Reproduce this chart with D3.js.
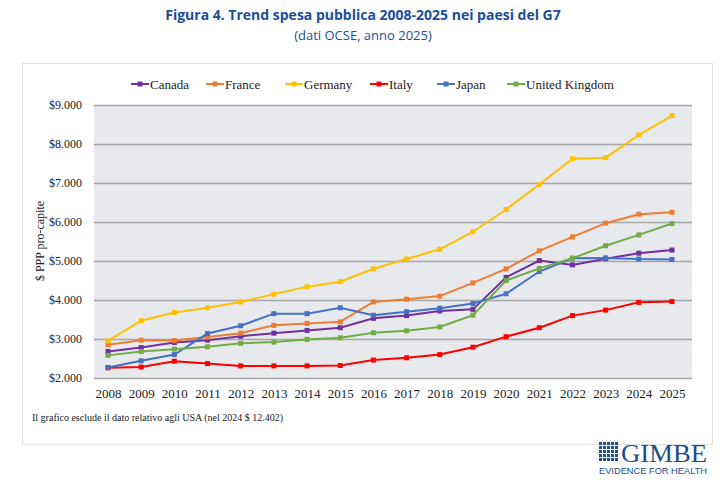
<!DOCTYPE html>
<html><head><meta charset="utf-8">
<script src="https://cdn.jsdelivr.net/npm/d3@7"></script>
<style>body{margin:0;background:#fff}</style>
</head><body>
<svg id="c" width="727" height="487"></svg>
<script>
var years = d3.range(2008, 2026);
var countries = ["Canada", "France", "Germany", "Italy", "Japan", "United Kingdom"];
var colors = ["#7030a0", "#ed7d31", "#ffc000", "#ff0000", "#4472c4", "#70ad47"];
var canada = [2.68,2.78,2.91,2.97,3.07,3.15,3.22,3.29,3.53,3.60,3.72,3.76,4.58,5.01,4.90,5.06,5.20,5.28];
var france = [2.85,2.97,2.96,3.05,3.15,3.35,3.40,3.44,3.95,4.02,4.10,4.44,4.80,5.26,5.62,5.97,6.20,6.25];
var germany = [2.95,3.47,3.68,3.80,3.95,4.15,4.34,4.47,4.80,5.05,5.30,5.75,6.32,6.96,7.62,7.65,8.23,8.73];
var italy = [2.26,2.28,2.43,2.37,2.31,2.31,2.31,2.32,2.46,2.52,2.60,2.79,3.06,3.29,3.60,3.74,3.94,3.96];
var japan = [2.27,2.44,2.60,3.14,3.34,3.65,3.65,3.80,3.61,3.70,3.79,3.91,4.16,4.73,5.07,5.08,5.05,5.04];
var uk = [2.58,2.68,2.74,2.80,2.89,2.92,2.99,3.03,3.16,3.21,3.31,3.61,4.50,4.81,5.07,5.39,5.67,5.96];
var series = [canada, france, germany, italy, japan, uk];
var yTicks = [2,3,4,5,6,7,8,9];

var svg = d3.select("#c");
svg.append("text").attr("x", 363).attr("y", 20).attr("text-anchor", "middle")
  .style("font", "bold 14px 'Open Sans'").attr("fill", "#1a4f9c").text("Figura 4. Trend spesa pubblica 2008-2025 nei paesi del G7");
svg.append("text").attr("x", 363).attr("y", 40).attr("text-anchor", "middle")
  .style("font", "13px 'Open Sans'").attr("fill", "#1a4f9c").text("(dati OCSE, anno 2025)");

svg.append("rect").attr("x", 22.5).attr("y", 63.5).attr("width", 690).attr("height", 381)
  .attr("fill", "#fff").attr("stroke", "#e0e0e0");

var x = d3.scalePoint().domain(years).range([108, 672]);
var y = d3.scaleLinear().domain([2, 9]).range([378, 105]);

svg.append("rect").attr("x", 94).attr("y", 105).attr("width", 598).attr("height", 273).attr("fill", "#e8e9ed");

var ya = svg.append("g").attr("transform", "translate(94,0)")
  .call(d3.axisLeft(y).tickValues(yTicks).tickSize(-598).tickFormat(function(d){ return "$" + d + ".000"; }));
ya.select(".domain").remove();
ya.selectAll("line").attr("stroke", "#a6a6a6").attr("stroke-width", 1.3);
ya.selectAll("text").attr("x", -12).style("font", "12px 'Liberation Serif'").attr("fill", "#222");

var xa = svg.append("g").attr("transform", "translate(0,378)").call(d3.axisBottom(x).tickSize(0));
xa.select(".domain").remove();
xa.selectAll("text").attr("dy", "1.3em").style("font", "13px 'Liberation Serif'").attr("fill", "#222");

svg.append("text").attr("transform", "translate(44,241) rotate(-90)").attr("text-anchor", "middle")
  .style("font", "12px 'Liberation Serif'").attr("fill", "#222").text("$ PPP pro-capite");

var line = d3.line().x(function(d, i){ return x(years[i]); }).y(function(d){ return y(d); });
series.forEach(function(s, k) {
  svg.append("path").datum(s).attr("d", line).attr("fill", "none").attr("stroke", colors[k]).attr("stroke-width", 2);
  svg.selectAll(null).data(s).enter().append("rect")
    .attr("x", function(d, i){ return x(years[i]) - 2.5; }).attr("y", function(d){ return y(d) - 2.5; })
    .attr("width", 5).attr("height", 5).attr("fill", colors[k]);
});

var legX = [131, 206, 285, 370, 437, 507];
countries.forEach(function(c, k) {
  var g = svg.append("g").attr("transform", "translate(" + legX[k] + ",84)");
  g.append("line").attr("x1", 0).attr("x2", 18).attr("stroke", colors[k]).attr("stroke-width", 2);
  g.append("rect").attr("x", 6.5).attr("y", -2.5).attr("width", 5).attr("height", 5).attr("fill", colors[k]);
  g.append("text").attr("x", 19).attr("y", 4.5).style("font", "13px 'Liberation Serif'").attr("fill", "#222").text(c);
});

svg.append("text").attr("x", 32).attr("y", 421).style("font", "10px 'Liberation Serif'").attr("fill", "#222")
  .text("Il grafico esclude il dato relativo agli USA (nel 2024 $ 12.402)");

// logo
var lg = svg.append("g").attr("transform", "translate(599,442)");
for (var i = 0; i < 5; i++) for (var j = 0; j < 5; j++)
  lg.append("rect").attr("x", i * 4).attr("y", j * 4).attr("width", 3).attr("height", 3).attr("fill", "#1f4e8c");
lg.append("text").attr("x", 22).attr("y", 20).attr("textLength", 86).attr("lengthAdjust", "spacingAndGlyphs")
  .style("font", "25px 'Liberation Serif'").attr("fill", "#1f4e8c").text("GIMBE");
lg.append("text").attr("x", 0).attr("y", 32).attr("textLength", 108).attr("lengthAdjust", "spacingAndGlyphs")
  .style("font", "9px 'Liberation Sans'").attr("fill", "#1f4e8c").text("EVIDENCE FOR HEALTH");
</script>
</body></html>
